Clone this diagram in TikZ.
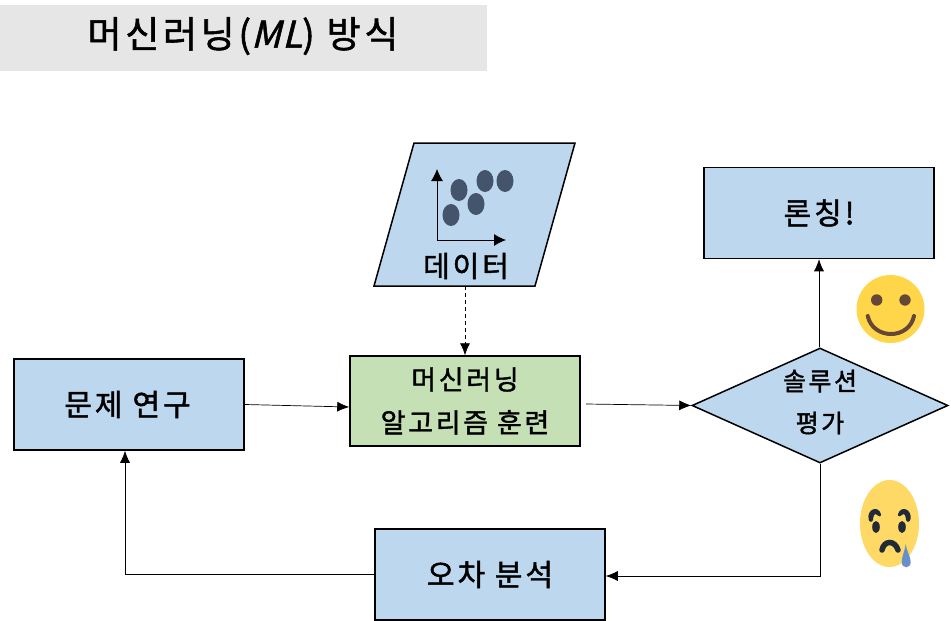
\documentclass[tikz,border=0pt]{standalone}
\usepackage{fontspec}
\usetikzlibrary{shapes.geometric,arrows.meta,calc}
\newfontfamily\kr[LetterSpace=10,FakeBold=1.5]{Noto Sans CJK KR}
\newfontfamily\krslant[LetterSpace=3,FakeBold=1.5,FakeSlant=0.25]{Noto Sans CJK KR}
\definecolor{boxblue}{HTML}{BDD7EE}
\definecolor{boxgreen}{HTML}{C5E0B4}
\definecolor{titlegray}{HTML}{E7E6E6}
\definecolor{dotblue}{HTML}{44546A}
\definecolor{smileyellow}{RGB}{255,214,73}
\definecolor{smilebrown}{RGB}{101,71,56}
\definecolor{sadyellow}{RGB}{255,217,102}
\definecolor{saddark}{RGB}{34,42,56}
\definecolor{tearblue}{RGB}{106,142,201}
\tikzset{
  x=1pt,y=-1pt,
  flowbox/.style={draw=black,line width=1.5pt,fill=boxblue,inner sep=0pt,font=\kr\fontsize{30}{34}\selectfont,align=center},
  link/.style={line width=0.7pt,-{Latex[length=12pt,width=10pt]}},
  dot/.style={fill=dotblue,draw=none,ellipse,inner sep=0pt,minimum width=17pt,minimum height=22pt},
}
\begin{document}
\begin{tikzpicture}
\useasboundingbox (0,0) rectangle (951,621);
\node[fill=titlegray,inner sep=0pt,minimum width=487pt,minimum height=66pt,anchor=north west] (title) at (0,5) {};
\node[font=\kr\fontsize{37}{44}\selectfont] (titletext) at (243,36) {머신러닝({\krslant ML}) 방식};

% data parallelogram
\draw[line width=1.5pt,fill=boxblue] (414,143) -- (575,143) -- (535,286) -- (374,286) -- cycle;
\coordinate (databottom) at (465,286);
\node[font=\kr\fontsize{29}{34}\selectfont] (datatext) at (466,266) {데이터};
\coordinate (origin) at (437,240);
\coordinate (yend) at (437,169);
\coordinate (xend) at (506,240);
\draw[line width=0.8pt,-{Latex[length=12pt,width=12pt]}] (origin) -- (yend);
\draw[line width=0.8pt,-{Latex[length=12pt,width=12pt]}] (origin) -- (xend);
\node[dot] (d1) at (459,190) {};
\node[dot] (d2) at (485,181) {};
\node[dot] (d3) at (505,181) {};
\node[dot] (d4) at (476,204) {};
\node[dot] (d5) at (451,215) {};

\node[flowbox,minimum width=230pt,minimum height=91pt,text width=230pt,xshift=0pt] (study) at (129,404.5) {\hspace*{-3pt}문제 연구};
\node[flowbox,fill=boxgreen,minimum width=230pt,minimum height=90pt,font=\kr\fontsize{27}{43}\selectfont] (train) at (465,401) {머신러닝\\알고리즘 훈련};
\node[flowbox,minimum width=230pt,minimum height=91pt] (launch) at (819,213) {론칭!};
\node[flowbox,minimum width=230pt,minimum height=91pt] (error) at (490,574.5) {오차 분석};
\node[draw=black,line width=1.5pt,fill=boxblue,diamond,aspect=2.23,inner sep=0pt,minimum width=256pt,minimum height=115pt] (eval) at (820,405.5) {};
\node[font=\kr\fontsize{25}{42}\selectfont,align=center] (evaltext) at (820,402) {솔루션\\평가};

% connectors
\draw[link] (study.east) -- ($(train.west)+(0,6)$);
\draw[link] ($(train.east)+(5,3)$) -- (eval.west);
\draw[line width=0.7pt,dash pattern=on 4pt off 3pt,-{Latex[length=12pt,width=10pt]}] (databottom) -- (train.north);
\draw[link] ($(eval.north)+(-1,0)$) -- (launch.south);
\draw[link] (eval.south) |- ($(error.east)+(0,1.5)$);
\draw[link] (error.west) -| ($(study.south)+(-4,0)$);

% happy face
\fill[smileyellow] (890.5,309) circle[radius=34];
\fill[smilebrown] (876.7,300) circle[radius=5.7];
\fill[smilebrown] (905,300) circle[radius=5.7];
\draw[smilebrown,line width=4pt,line cap=round] (867.7,316) .. controls (873,340) and (909,340) .. (914,316);

% sad face
\fill[sadyellow] (889.5,523.5) ellipse[x radius=29.5,y radius=43.5];
\fill[saddark] (876,527) ellipse[x radius=3.8,y radius=6];
\fill[saddark] (902,527) ellipse[x radius=3.8,y radius=6];
\fill[saddark] (868.5,519) .. controls (867,509) and (878,505) .. (881,514) .. controls (881.5,517) and (878,517) .. (877,515) .. controls (875,512) and (873,516) .. (873,520) .. controls (872,523) and (869,522) .. (868.5,519) -- cycle;
\fill[saddark] (910.5,519) .. controls (912,509) and (901,505) .. (898,514) .. controls (897.5,517) and (901,517) .. (902,515) .. controls (904,512) and (906,516) .. (906,520) .. controls (907,523) and (910,522) .. (910.5,519) -- cycle;
\draw[saddark,line width=5.5pt,line cap=round] (882,550) .. controls (884,540) and (895,540) .. (898,550);
\fill[tearblue] (905.7,544) .. controls (907,552) and (910.7,557) .. (910.7,562) .. controls (910.7,569) and (901.7,569) .. (901.7,562) .. controls (901.7,557) and (904.5,552) .. (905.7,544) -- cycle;
\end{tikzpicture}
\end{document}
